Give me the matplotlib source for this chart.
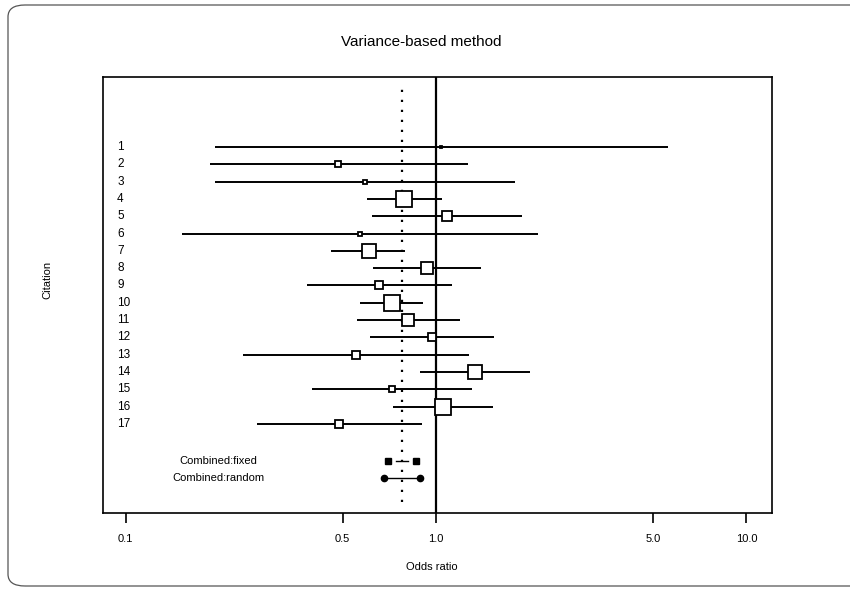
import matplotlib
matplotlib.use("Agg")
import matplotlib.pyplot as plt
from matplotlib.patches import FancyBboxPatch
import numpy as np

plt.rcParams['font.family'] = ['Liberation Sans', 'DejaVu Sans']

# ---- data ----
citations = [str(i) for i in range(1, 18)]
est = [1.04, 0.483, 0.59, 0.786, 1.085, 0.569, 0.608, 0.936, 0.657,
       0.722, 0.812, 0.97, 0.552, 1.336, 0.721, 1.053, 0.487]
lo = [0.194, 0.187, 0.194, 0.60, 0.622, 0.152, 0.459, 0.627, 0.384,
      0.569, 0.557, 0.613, 0.239, 0.888, 0.399, 0.727, 0.265]
hi = [5.59, 1.27, 1.80, 1.045, 1.89, 2.13, 0.795, 1.40, 1.13,
      0.908, 1.195, 1.54, 1.28, 2.01, 1.306, 1.526, 0.901]
weight = [1.5, 4.5, 3.0, 12.0, 6.5, 2.5, 9.5, 8.0, 5.5,
          12.0, 8.0, 6.0, 6.0, 10.0, 4.5, 11.0, 6.0]
combined_labels = ["Combined:fixed", "Combined:random"]
comb_est = [0.777, 0.777]
comb_lo = [0.700, 0.680]
comb_hi = [0.862, 0.888]
xticks = [0.1, 0.5, 1.0, 5.0, 10.0]
xticklabels = ["0.1", "0.5", "1.0", "5.0", "10.0"]

fig = plt.figure(figsize=(8.5, 5.91), dpi=100)
ax = fig.add_axes([0.1212, 0.132, 0.787, 0.7377])

# rounded outer frame
frame = FancyBboxPatch((8 / 850, 5 / 591), 1.2, 1 - 10 / 591,
                       boxstyle="round,pad=0,rounding_size=0.02",
                       transform=fig.transFigure, fill=False,
                       edgecolor="#555555", linewidth=0.9, clip_on=False)
fig.patches.append(frame)

ax.set_xscale('log')
ax.set_xlim(0.0846, 12.09)
ax.set_ylim(22.14, -3.04)

rows = np.arange(1, len(citations) + 1)
for r, e, l, h, w in zip(rows, est, lo, hi, weight):
    ax.plot([l, h], [r, r], color='black', lw=1.4, solid_capstyle='butt')
    ax.plot([e], [r], marker='s', ms=w, mfc='white', mec='black', mew=1.3,
            linestyle='none', zorder=3)

# reference lines
ax.axvline(1.0, color='black', lw=1.6)
ax.axvline(comb_est[0], ymin=0.025, ymax=0.975, color='black', lw=1.6,
           linestyle=(0, (1, 3.5)))

# combined rows
comb_rows = [19.14, 20.12]
markers = ['s', 'o']
for r, e, l, h, m in zip(comb_rows, comb_est, comb_lo, comb_hi, markers):
    ax.plot([l, h], [r, r], marker=m, ms=4.5, mfc='black', mec='black',
            linestyle='none', zorder=3)
for r, e, l, h, half in zip(comb_rows, comb_est, comb_lo, comb_hi, [0.45, 0.8]):
    a = e * (l / e) ** half
    b = e * (h / e) ** half
    ax.plot([a, b], [r, r], color='black', lw=1.0)

# text labels
for r, c in zip(rows, citations):
    ax.text(0.021, r, c, transform=ax.get_yaxis_transform(), ha='left',
            va='center', fontsize=8.5)
for r, c in zip(comb_rows, combined_labels):
    ax.text(0.172, r, c, transform=ax.get_yaxis_transform(), ha='center',
            va='center', fontsize=8)

ax.set_xticks(xticks)
ax.set_xticklabels(xticklabels, fontsize=8)
ax.xaxis.set_minor_locator(matplotlib.ticker.NullLocator())
ax.tick_params(axis='x', direction='out', length=7, width=1.2, pad=8)
ax.set_yticks([])
for s in ax.spines.values():
    s.set_linewidth(1.2)

fig.text(421 / 850, 1 - 42 / 591, "Variance-based method", ha='center',
         va='center', fontsize=11)
fig.text(47 / 850, 1 - 280 / 591, "Citation", rotation=90, ha='center',
         va='center', fontsize=8)
fig.text(432 / 850, 1 - 567 / 591, "Odds ratio", ha='center', va='center',
         fontsize=8)

fig.savefig("out.png", dpi=100)
